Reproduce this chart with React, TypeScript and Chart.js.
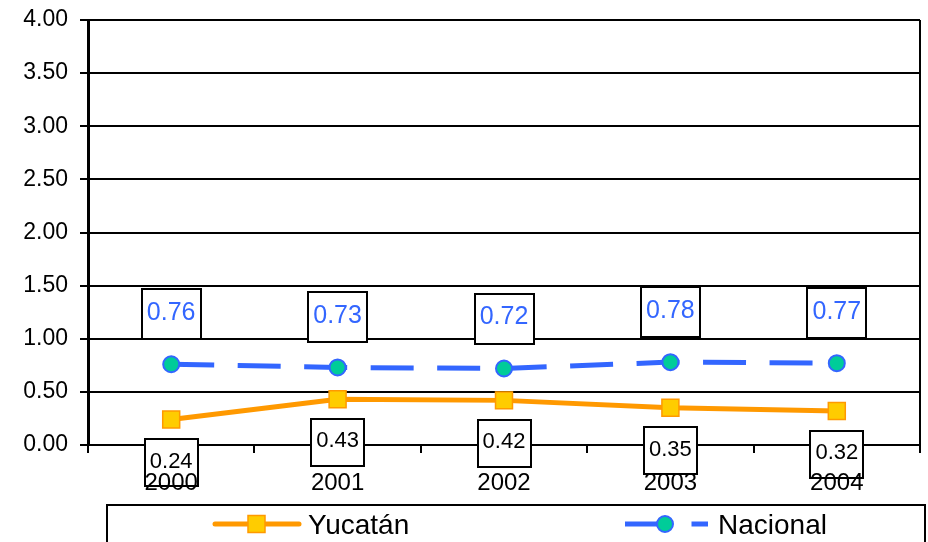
import React, { useEffect, useRef } from "react";
import { Chart, registerables } from "chart.js";

Chart.register(...registerables);

const years = ["2000", "2001", "2002", "2003", "2004"];
const yucatan = [0.24, 0.43, 0.42, 0.35, 0.32];
const nacional = [0.76, 0.73, 0.72, 0.78, 0.77];
const yTickValues = [0, 0.5, 1, 1.5, 2, 2.5, 3, 3.5, 4];
const seriesNames = ["Yucatán", "Nacional"];

const FONT = '"Liberation Sans", Arial, Helvetica, sans-serif';
const BLUE = "#3366FF";
const GREEN = "#00CC99";
const ORANGE = "#FF9900";
const YELLOW = "#FFCC00";
const DASH = [43, 23.5];

const boxLabelPlugin = {
  id: "boxLabels",
  beforeDatasetsDraw(chart: any) {
    const { ctx, chartArea } = chart;
    ctx.save();
    ctx.strokeStyle = "#000";
    ctx.lineWidth = 2;
    ctx.beginPath();
    ctx.moveTo(chartArea.right, chartArea.top);
    ctx.lineTo(chartArea.right, chartArea.bottom + 8);
    ctx.stroke();
    ctx.restore();
  },
  afterDatasetsDraw(chart: any) {
    const ctx = chart.ctx;
    chart.data.datasets.forEach((ds: any, i: number) => {
      const meta = chart.getDatasetMeta(i);
      const isNac = i === 1;
      ctx.save();
      ctx.font = `${isNac ? 25 : 22}px ${FONT}`;
      meta.data.forEach((pt: any, j: number) => {
        const text = Number(ds.data[j]).toFixed(2);
        const w = Math.round(ctx.measureText(text).width + (isNac ? 10 : 10));
        const h = isNac ? 50 : 47;
        const cy = isNac ? pt.y - 50 : pt.y + 43;
        const x0 = Math.round(pt.x - w / 2);
        const y0 = Math.round(cy - h / 2);
        ctx.fillStyle = "#fff";
        ctx.fillRect(x0, y0, w, h);
        ctx.lineWidth = 2;
        ctx.strokeStyle = "#000";
        ctx.strokeRect(x0, y0, w, h);
        ctx.fillStyle = isNac ? BLUE : "#000";
        ctx.textAlign = "center";
        ctx.textBaseline = "middle";
        ctx.fillText(text, pt.x, cy - 1);
      });
      ctx.restore();
    });
  },
  afterDraw(chart: any) {
    const ctx = chart.ctx;
    ctx.save();
    // legend frame
    ctx.strokeStyle = "#000";
    ctx.lineWidth = 2;
    ctx.strokeRect(107, 505, 818, 60);
    const ly = 524;
    // Yucatán
    ctx.strokeStyle = ORANGE;
    ctx.lineWidth = 5;
    ctx.lineCap = "round";
    ctx.beginPath();
    ctx.moveTo(215, ly);
    ctx.lineTo(299, ly);
    ctx.stroke();
    ctx.lineCap = "butt";
    ctx.fillStyle = YELLOW;
    ctx.fillRect(248, ly - 8.5, 17, 17);
    ctx.strokeStyle = ORANGE;
    ctx.lineWidth = 1.5;
    ctx.strokeRect(248, ly - 8.5, 17, 17);
    // Nacional
    ctx.strokeStyle = BLUE;
    ctx.lineWidth = 5;
    ctx.setLineDash(DASH);
    ctx.beginPath();
    ctx.moveTo(625, ly);
    ctx.lineTo(708, ly);
    ctx.stroke();
    ctx.setLineDash([]);
    ctx.beginPath();
    ctx.arc(665, ly, 8, 0, Math.PI * 2);
    ctx.fillStyle = GREEN;
    ctx.fill();
    ctx.lineWidth = 2;
    ctx.strokeStyle = BLUE;
    ctx.stroke();
    // texts
    ctx.fillStyle = "#000";
    ctx.font = `28px ${FONT}`;
    ctx.textAlign = "left";
    ctx.textBaseline = "middle";
    ctx.fillText(chart.data.datasets[0].label, 308, ly + 2);
    ctx.fillText(chart.data.datasets[1].label, 718, ly + 2);
    ctx.restore();
  },
};

export default function App() {
  const ref = useRef<HTMLCanvasElement | null>(null);

  useEffect(() => {
    if (!ref.current) return;
    const chart = new Chart(ref.current, {
      type: "line",
      data: {
        labels: years,
        datasets: [
          {
            label: seriesNames[0],
            data: yucatan,
            borderColor: ORANGE,
            borderWidth: 5,
            pointStyle: "rect",
            pointRadius: 12,
            pointBackgroundColor: YELLOW,
            pointBorderColor: ORANGE,
            pointBorderWidth: 1.5,
            tension: 0,
            clip: false as any,
          },
          {
            label: seriesNames[1],
            data: nacional,
            borderColor: BLUE,
            borderWidth: 5,
            borderDash: DASH,
            pointStyle: "circle",
            pointRadius: 8,
            pointBackgroundColor: GREEN,
            pointBorderColor: BLUE,
            pointBorderWidth: 2,
            tension: 0,
            clip: false as any,
          },
        ],
      },
      options: {
        responsive: false,
        animation: false,
        layout: { autoPadding: false, padding: { top: 20, right: 8, left: 0, bottom: 0 } },
        plugins: {
          legend: { display: false },
          tooltip: { enabled: false },
        },
        scales: {
          x: {
            offset: true,
            grid: {
              offset: true,
              drawOnChartArea: false,
              color: "#000",
              lineWidth: 2,
              tickLength: 8,
            },
            border: { color: "#000", width: 2 },
            ticks: {
              color: "#000",
              font: { family: FONT, size: 24 },
              padding: 16,
              z: 1,
              maxRotation: 0,
              autoSkip: false,
            },
            afterFit: (s: any) => {
              s.height = 97;
              s.paddingLeft = 0;
              s.paddingRight = 0;
            },
          },
          y: {
            min: 0,
            max: 4,
            afterBuildTicks: (s: any) => {
              s.ticks = yTickValues.map((v) => ({ value: v }));
            },
            ticks: {
              color: "#000",
              font: { family: FONT, size: 23 },
              padding: 12,
              callback: (v: any) => Number(v).toFixed(2),
            },
            grid: { color: "#000", lineWidth: 2, tickLength: 8 },
            border: { color: "#000", width: 3 },
            afterFit: (s: any) => {
              s.width = 88;
              s.paddingTop = 0;
              s.paddingBottom = 0;
            },
          },
        },
      },
      plugins: [boxLabelPlugin],
    });
    return () => chart.destroy();
  }, []);

  return (
    <div style={{ position: "absolute", left: 0, top: 0, width: 928, height: 542, background: "#fff" }}>
      <canvas ref={ref} width={928} height={542} style={{ display: "block" }} />
    </div>
  );
}
